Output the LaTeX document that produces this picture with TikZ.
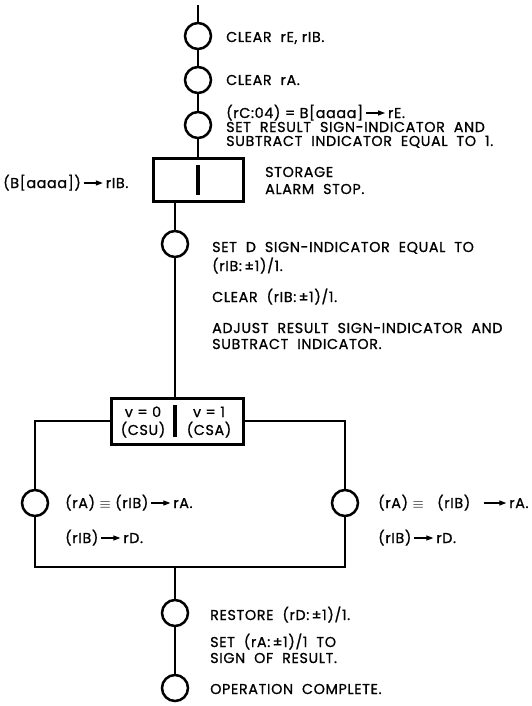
\documentclass[tikz,border=0pt]{standalone}
\usepackage{fontspec}
\setmainfont{Poppins}[FakeBold=0.9,LetterSpace=4.5]
\usetikzlibrary{arrows.meta}
\newcommand\arr[1][19]{\tikz[baseline=-5pt]\draw[line width=1.2pt,-{Triangle[length=7pt,width=5pt]}] (0pt,0pt)--(#1pt,0pt);}
\newcommand\eqv{$\equiv$}
\begin{document}
\begin{tikzpicture}[x=1pt,y=-1pt,
  ln/.style={line width=2.5pt},
  stn/.style={circle,draw,line width=2.5pt,minimum size=26pt,inner sep=0pt},
  boxn/.style={draw,line width=3pt,inner sep=0pt},
  txt/.style={anchor=base west,inner sep=0pt,font=\fontsize{14.3}{16}\selectfont},
  ctxt/.style={anchor=base,inner sep=0pt,font=\fontsize{14.3}{16}\selectfont}]
\useasboundingbox (0,0) rectangle (532,706);
% upper column
\coordinate (top) at (198,5);
\node[stn] (c1) at (198,36) {};
\node[stn] (c2) at (198,80) {};
\node[stn] (c3) at (198,125) {};
\node[boxn,minimum width=90pt,minimum height=43pt] (sbox) at (198,180) {};
\coordinate (sd1) at (198,165);
\coordinate (sd2) at (198,195);
% lower column
\node[stn] (c4) at (175,244) {};
\node[boxn,minimum width=132pt,minimum height=46pt] (vbox) at (177,421) {};
\coordinate (vd1) at (175,405);
\coordinate (vd2) at (175,437);
\node[stn] (lc) at (35,503) {};
\node[stn] (rc) at (345,503) {};
\coordinate (bl) at (35,567);
\coordinate (br) at (345,567);
\coordinate (bm) at (175,567);
\node[stn] (c5) at (175,613) {};
\node[stn] (c6) at (175,688) {};
% connectors
\draw[ln] (top) -- (c1);
\draw[ln] (c1) -- (c2);
\draw[ln] (c2) -- (c3);
\draw[ln] (c3) -- (c3 |- sbox.north);
\draw[line width=3.2pt] (sd1) -- (sd2);
\draw[ln] (sbox.south -| c4) -- (c4);
\draw[ln] (c4) -- (c4 |- vbox.north);
\draw[line width=3.2pt] (vd1) -- (vd2);
\draw[ln] (vbox.west) -| (lc);
\draw[ln] (vbox.east) -| (rc);
\draw[ln] (lc) -- (bl) -- (br) -- (rc);
\draw[ln] (bm) -- (c5);
\draw[ln] (c5) -- (c6);
% texts
\node[txt] (t1) at (226,42) {CLEAR\ \ rE,\ rIB.};
\node[txt] (t2) at (226,85) {CLEAR\ \ rA.};
\node[txt] (t3a) at (226,118) {(rC:04) = B[aaaa]\,\arr\,rE.};
\node[txt] (t3b) at (226,132) {SET\ \ RESULT\ \ SIGN-INDICATOR\ \ AND};
\node[txt] (t3c) at (226,146) {SUBTRACT\ \ INDICATOR\ \ EQUAL\ \ TO\ \ 1.};
\node[txt] (t4) at (3,188) {(B[aaaa])\,\arr\,rIB.};
\node[txt] (t5a) at (265,177) {STORAGE};
\node[txt] (t5b) at (265,194) {ALARM\ \ STOP.};
\node[txt] (t6a) at (212,252) {SET\ \ D\ \ SIGN-INDICATOR\ \ EQUAL\ \ TO};
\node[txt] (t6b) at (212,271) {(rIB:\,±1)/1.};
\node[txt] (t7) at (212,302) {CLEAR\ \ (rIB:\,±1)/1.};
\node[txt] (t8a) at (212,333) {ADJUST\ \ RESULT\ \ SIGN-INDICATOR\ \ AND};
\node[txt] (t8b) at (212,349) {SUBTRACT\ \ INDICATOR.};
\node[ctxt] (v0) at (143,417) {v = 0};
\node[ctxt] (v0b) at (143,435) {(CSU)};
\node[ctxt] (v1) at (209,417) {v = 1};
\node[ctxt] (v1b) at (209,435) {(CSA)};
\node[txt] (l1) at (65,508) {(rA) \eqv\ (rIB)\,\arr\,rA.};
\node[txt] (l2) at (65,543) {(rIB)\,\arr\,rD.};
\node[txt] (r1) at (378,508) {(rA) \eqv\ \ \ (rIB)\ \ \ \arr[22]\,rA.};
\node[txt] (r2) at (378,543) {(rIB)\,\arr\,rD.};
\node[txt] (t9) at (210,620) {RESTORE\ \ (rD:\,±1)/1.};
\node[txt] (t10a) at (210,647) {SET\ \ (rA:\,±1)/1\ \ TO};
\node[txt] (t10b) at (210,663) {SIGN\ \ OF\ \ RESULT.};
\node[txt] (t11) at (210,694) {OPERATION\ \ COMPLETE.};
\end{tikzpicture}
\end{document}
